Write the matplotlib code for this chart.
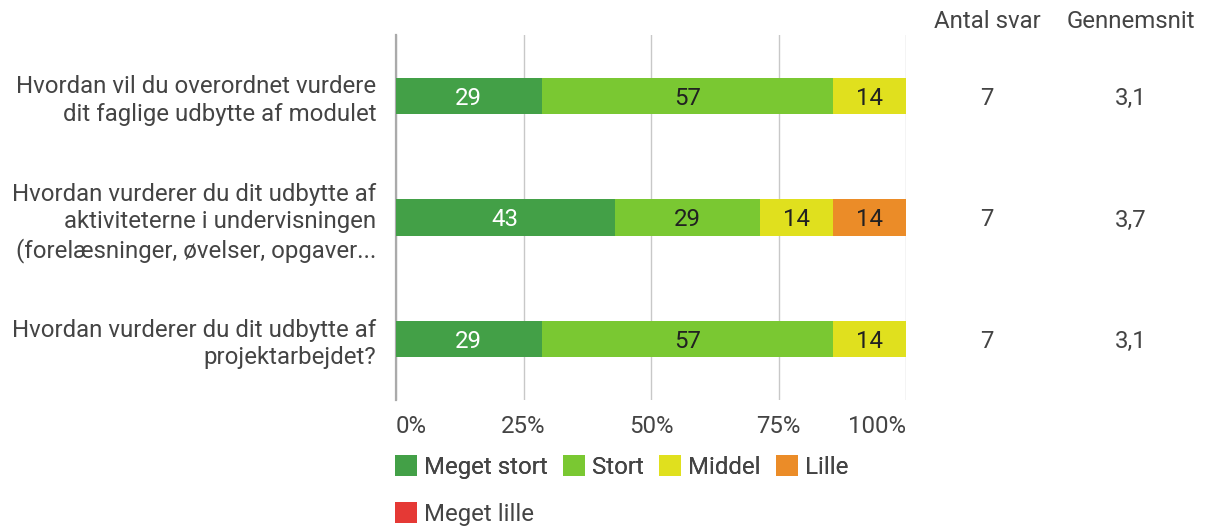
import matplotlib.pyplot as plt
import numpy as np
from matplotlib.patches import Patch

plt.rcParams['font.family'] = ['Roboto', 'DejaVu Sans']

# data: number of answers per category (7 respondents per question)
questions = [
    "Hvordan vil du overordnet vurdere\ndit faglige udbytte af modulet",
    "Hvordan vurderer du dit udbytte af\naktiviteterne i undervisningen\n(forelæsninger, øvelser, opgaver...",
    "Hvordan vurderer du dit udbytte af\nprojektarbejdet?",
]
categories = ["Meget stort", "Stort", "Middel", "Lille", "Meget lille"]
meget_stort = [2, 3, 2]
stort = [4, 2, 4]
middel = [1, 1, 1]
lille = [0, 1, 0]
meget_lille = [0, 0, 0]
antal_svar = [7, 7, 7]
gennemsnit = [3.1, 3.7, 3.1]

colors = ["#43A047", "#7AC832", "#E0E01E", "#EB8C28", "#E53935"]
text_colors = ["white", "#212121", "#212121", "#212121", "white"]
gray = "#444444"
fs = 17.3

fig = plt.figure(figsize=(12.05, 5.27), dpi=100)
ax = fig.add_axes([396 / 1205, 1 - 400 / 527, 510 / 1205, 365 / 527])

y = np.arange(len(questions))
left = np.zeros(len(questions))
series = [meget_stort, stort, middel, lille, meget_lille]
for vals, col, tc in zip(series, colors, text_colors):
    pct = np.array(vals) / np.array(antal_svar) * 100
    ax.barh(y, pct, left=left, height=0.3, color=col, zorder=3)
    for yi, l, p in zip(y, left, pct):
        if p > 0:
            ax.text(l + p / 2, yi, f"{p:.0f}", ha='center', va='center_baseline',
                    color=tc, fontsize=fs, zorder=4)
    left += pct

ax.set_xlim(0, 100)
ax.set_ylim(len(questions) - 0.5, -0.5)
ax.set_xticks([0, 25, 50, 75, 100])
ax.set_xticklabels(["0%", "25%", "50%", "75%", "100%"])
ax.set_yticks(y)
ax.set_yticklabels(questions, linespacing=1.24)
ax.tick_params(axis='both', length=0, labelsize=fs, labelcolor=gray)
ax.tick_params(axis='y', pad=14)
ax.tick_params(axis='x', pad=11)
xl = ax.get_xticklabels()
xl[0].set_ha('left')
xl[-1].set_ha('right')
ax.xaxis.grid(True, color='#c8c8c8', linewidth=1.0, zorder=0)
for s in ['top', 'right', 'bottom']:
    ax.spines[s].set_visible(False)
ax.spines['left'].set_color('#aaaaaa')
ax.spines['left'].set_linewidth(1.6)

# right-hand columns
fig.text(987 / 1205, 1 - 22 / 527, "Antal svar", ha='center', va='center', fontsize=fs, color=gray)
fig.text(1131 / 1205, 1 - 22 / 527, "Gennemsnit", ha='center', va='center', fontsize=fs, color=gray)
tr = ax.get_yaxis_transform()
for yi, n, g in zip(y, antal_svar, gennemsnit):
    ax.text((987 - 396) / 510, yi, str(n), transform=tr, ha='center', va='center_baseline',
            fontsize=fs, color=gray, clip_on=False)
    ax.text((1131 - 396) / 510, yi, f"{g:.1f}".replace('.', ','), transform=tr,
            ha='center', va='center_baseline', fontsize=fs, color=gray, clip_on=False)

handles = [Patch(facecolor=c, edgecolor='none') for c in colors]
leg1 = fig.legend(handles[:4], categories[:4], loc='center left',
                  bbox_to_anchor=(395 / 1205, 1 - 467 / 527), ncol=4, frameon=False,
                  fontsize=fs, labelcolor=gray, handlelength=0.92, handleheight=0.92,
                  handletextpad=0.3, columnspacing=0.62, borderpad=0, borderaxespad=0)
fig.legend(handles[4:], categories[4:], loc='center left',
           bbox_to_anchor=(395 / 1205, 1 - 514 / 527), ncol=1, frameon=False,
           fontsize=fs, labelcolor=gray, handlelength=0.92, handleheight=0.92,
           handletextpad=0.3, borderpad=0, borderaxespad=0)
fig.add_artist(leg1)

fig.savefig("out.png", dpi=100)
